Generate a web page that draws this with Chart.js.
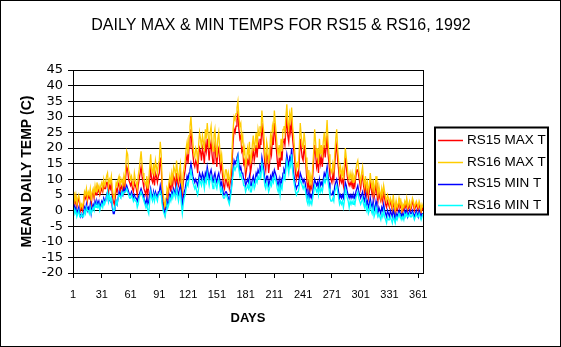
<!DOCTYPE html>
<html>
<head>
<meta charset="utf-8">
<script src="https://cdn.jsdelivr.net/npm/chart.js@4/dist/chart.umd.min.js"></script>
<style>
  html, body { margin: 0; padding: 0; background: #fff; }
  canvas { display: block; }
</style>
</head>
<body>
<canvas id="c" width="561" height="347"></canvas>
<script>
// Daily temperatures (deg C) at stations RS15 and RS16, 1992 (366 days)
const chartTitle = 'DAILY MAX & MIN TEMPS FOR RS15 & RS16, 1992';
const seriesNames = ['RS15 MAX T', 'RS16 MAX T', 'RS15 MIN T', 'RS16 MIN T'];
const seriesColors = ['#FF0000', '#FFCC00', '#0000FF', '#00FFFF'];
const dayTicks = [1, 31, 61, 91, 121, 151, 181, 211, 241, 271, 301, 331, 361];

const rs15Max = [
  3,5,2,4,1,3,4,2,0,1, 0,2,5,4,6,3,5,4,5,2, 5,6,4,6,5,7,6,7,5,6,
  7,6,8,7,7,9,9,6,8,7, 9,5,3,2,4,7,6,8,9,6, 7,8,6,9,7,11,14,13,10,9,
  8,9,7,6,9,8,7,5,8,10, 12,14,11,9,7,6,5,8,5,8, 10,13,10,9,11,8,12,11,9,11,
  12,17,14,7,3,1,-1,2,5,4, 7,9,6,10,8,11,10,8,12,9, 8,10,12,7,5,9,11,13,16,18,
  15,20,23,26,21,18,15,14,16,15, 12,17,20,19,16,20,18,15,21,19, 23,20,16,20,22,18,15,19,21,17,
  14,19,20,16,13,15,11,8,7,10, 10,8,9,7,9,11,16,22,26,25, 27,29,32,26,23,24,19,20,15,16,
  11,13,16,15,18,12,14,17,20,16, 18,21,17,22,20,23,21,28,24,21, 15,13,18,17,12,15,20,18,23,21,
  28,24,20,16,13,17,14,19,16,22, 23,21,26,30,24,22,27,25,30,23, 20,17,12,10,12,11,16,23,20,17,
  16,21,18,14,9,7,10,6,8,7, 11,16,21,18,14,16,12,19,15,17, 14,18,21,17,20,24,18,15,11,10,
  9,12,10,15,19,21,16,13,9,11, 9,10,8,12,17,14,11,9,8,9, 8,10,7,9,8,11,13,13,11,9,
  7,10,11,8,6,9,5,7,4,6, 9,7,5,8,4,6,9,5,3,6, 4,3,5,3,6,4,2,1,3,2,
  1,3,2,0,3,1,-1,2,0,1, 3,1,2,-1,1,0,2,1,3,0, 1,2,0,1,3,2,0,1,2,1,
  0,2,1,-1,1,0
];

const rs16Max = [
  4,6,3,5,2,4,5,3,1,2, 1,3,6,5,7,4,6,5,7,3, 6,7,5,8,6,9,7,8,6,8,
  9,7,10,8,9,11,12,8,10,9, 11,7,5,4,6,9,8,10,11,8, 9,10,8,11,9,14,19,18,13,12,
  10,11,9,8,12,10,9,7,11,13, 16,19,15,12,10,9,8,11,7,10, 14,18,13,12,15,11,16,14,12,15,
  16,22,18,9,5,3,1,4,7,6, 9,11,8,12,10,14,13,11,16,12, 10,13,15,9,7,12,14,16,20,22,
  18,24,27,30,25,22,18,17,20,19, 15,21,25,23,20,24,22,19,26,23, 28,24,20,25,27,22,19,24,26,21,
  17,23,25,20,16,18,14,11,10,13, 13,10,12,9,11,14,20,26,30,29, 31,33,35,30,27,28,22,24,18,20,
  14,16,20,18,22,15,17,21,24,19, 22,25,20,26,24,27,25,32,28,25, 18,16,22,20,15,18,24,22,27,25,
  32,28,24,20,18,21,17,23,19,26, 27,25,30,34,28,26,31,29,33,27, 24,20,16,13,15,14,20,28,24,21,
  20,25,22,17,12,10,13,8,11,9, 14,19,26,22,17,20,15,23,18,21, 17,22,25,20,24,29,22,18,14,13,
  12,15,13,18,23,26,20,16,12,14, 11,13,10,15,20,17,14,11,10,12, 10,12,9,11,10,13,15,16,13,11,
  9,12,14,10,8,11,7,9,6,8, 12,9,7,10,6,8,11,7,5,8, 6,4,7,5,8,6,4,3,5,4,
  2,4,3,1,5,2,0,3,1,2, 4,2,3,0,2,1,3,2,4,1, 2,3,1,2,4,3,1,2,3,2,
  1,3,2,0,2,1
];

const rs15Min = [
  1,2,0,1,-1,0,1,-1,-2,-1, -2,-1,1,0,2,0,1,0,2,-1, 1,2,1,3,2,3,2,3,1,2,
  3,2,4,3,3,5,6,3,4,3, 4,1,-1,-1,1,3,2,4,6,5, 5,6,5,7,6,7,8,7,6,5,
  5,6,5,4,5,4,4,3,4,5, 6,7,6,5,4,3,2,4,2,3, 5,7,5,4,6,4,6,5,4,6,
  6,8,6,3,1,0,-1,1,3,2, 3,5,4,6,5,7,6,5,8,6, 5,7,8,5,2,4,6,7,9,11,
  10,12,13,15,13,11,10,9,10,9, 8,10,12,11,10,12,11,9,12,11, 14,12,10,12,13,11,9,11,12,10,
  9,11,12,10,8,9,7,5,5,6, 6,5,4,3,5,7,10,13,16,15, 16,17,18,15,13,14,12,12,10,10,
  8,9,10,9,11,8,8,10,11,9, 10,12,11,13,12,14,13,17,15,13, 10,9,11,11,8,9,11,10,12,11,
  13,12,11,9,8,10,7,10,9,12, 13,12,15,18,16,14,17,16,20,15, 12,10,8,7,8,8,10,12,11,10,
  9,10,9,7,5,4,6,4,5,4, 6,8,10,9,8,9,7,10,8,9, 8,10,12,11,12,14,11,9,6,5,
  5,6,5,8,9,10,8,6,4,5, 4,5,4,6,9,8,6,5,4,5, 4,5,4,5,4,6,7,8,6,5,
  4,5,6,4,3,5,2,3,1,2, 4,2,1,3,0,1,3,1,-1,1, 0,-1,1,0,2,0,-1,-2,0,-1,
  -2,0,-1,-2,0,-1,-3,-1,-2,-1, 0,-1,-1,-2,-1,-2,0,-1,0,-2, -1,0,-1,-1,0,-1,-2,-1,0,-1,
  -2,0,-1,-2,-1,-1
];

const rs16Min = [
  0,1,-1,0,-2,-1,0,-2,-2,-1, -2,-2,0,-1,1,0,0,-1,1,-1, 0,1,0,2,1,2,1,2,0,1,
  2,1,3,2,3,4,6,3,5,3, 4,2,0,0,1,3,2,4,5,5, 4,6,5,6,6,6,7,6,5,4,
  4,5,4,3,4,3,3,1,2,4, 5,6,5,4,3,2,1,2,0,-1, 3,6,4,3,5,3,5,4,3,5,
  5,6,5,2,0,-1,-2,0,2,1, 2,4,3,5,4,6,5,4,7,5, 3,5,6,2,-1,2,4,5,7,9,
  8,10,11,13,11,9,8,7,8,6, 5,7,10,9,8,10,9,7,10,9, 12,10,8,10,11,9,7,9,10,8,
  7,9,10,8,6,7,5,4,4,5, 5,4,3,2,4,6,9,12,14,13, 14,15,17,13,11,12,10,10,8,8,
  6,7,8,7,9,6,6,8,9,7, 8,10,9,11,10,12,11,15,13,11, 8,7,9,8,6,7,9,8,10,9,
  11,10,9,7,6,8,5,8,7,10, 11,10,13,16,14,12,15,14,18,13, 10,8,6,5,6,6,8,10,9,8,
  7,8,7,5,3,2,4,2,3,2, 4,6,8,7,6,7,5,8,6,7, 6,8,10,9,10,12,9,7,4,3,
  3,4,3,6,7,8,6,4,2,3, 2,3,1,3,7,6,4,3,1,3, 2,3,2,3,2,4,5,6,4,3,
  2,3,4,2,1,3,0,1,-1,0, 2,0,-1,1,-2,-1,1,-1,-2,-1, -2,-3,-1,-2,0,-2,-3,-4,-2,-3,
  -3,-2,-3,-4,-2,-3,-4,-2,-3,-2, -1,-2,-2,-3,-2,-3,-1,-2,-1,-2, -2,-1,-2,-2,-1,-2,-3,-2,-1,-2,
  -2,-1,-2,-3,-2,-1
];

const seriesValues = [rs15Max, rs16Max, rs15Min, rs16Min];
const days = rs15Max.map((_, i) => i + 1);
const toPoints = vals => vals.map((v, i) => ({ x: days[i], y: v }));

const FONT = "'Liberation Sans', Arial, sans-serif";
Chart.defaults.font.family = FONT;
Chart.defaults.color = '#000';

// White background, outer frame, plot-area border, title and boxed legend
const framePlugin = {
  id: 'frame',
  beforeDraw(chart) {
    const ctx = chart.ctx;
    ctx.save();
    ctx.fillStyle = '#fff';
    ctx.fillRect(0, 0, chart.width, chart.height);
    ctx.restore();
  },
  afterDraw(chart) {
    const { ctx, chartArea: a } = chart;
    ctx.save();
    ctx.strokeStyle = '#000';
    ctx.lineWidth = 1;
    ctx.strokeRect(0.5, 0.5, chart.width - 1, chart.height - 1);
    ctx.strokeRect(Math.round(a.left) + 0.5, Math.round(a.top) + 0.5,
                   Math.round(a.right - a.left), Math.round(a.bottom - a.top));

    ctx.fillStyle = '#000';
    ctx.font = '16px ' + FONT;
    ctx.textAlign = 'center';
    ctx.textBaseline = 'middle';
    ctx.fillText(chartTitle, 281, 25.5);

    ctx.lineWidth = 2;
    ctx.strokeRect(435, 127.5, 113, 87);
    ctx.font = '13.5px ' + FONT;
    ctx.textAlign = 'left';
    chart.data.datasets.forEach((ds, i) => {
      const y = 140 + i * 21.8;
      ctx.strokeStyle = ds.borderColor;
      ctx.lineWidth = 1.5;
      ctx.beginPath();
      ctx.moveTo(438, Math.round(y) + 0.5);
      ctx.lineTo(463, Math.round(y) + 0.5);
      ctx.stroke();
      ctx.fillStyle = '#000';
      ctx.fillText(ds.label, 467, y);
    });
    ctx.restore();
  }
};

new Chart(document.getElementById('c'), {
  type: 'line',
  data: {
    datasets: seriesNames.map((name, k) => ({
      label: name,
      data: toPoints(seriesValues[k]),
      borderColor: seriesColors[k],
      backgroundColor: seriesColors[k],
      borderWidth: 1.3,
      pointRadius: 0,
      tension: 0,
      fill: false,
      order: 4 - k
    }))
  },
  options: {
    responsive: false,
    animation: false,
    devicePixelRatio: 1,
    layout: { padding: { left: 1, right: 138, top: 70, bottom: 0 } },
    plugins: {
      legend: { display: false },
      tooltip: { enabled: false },
      title: { display: false }
    },
    scales: {
      x: {
        type: 'linear',
        min: 1,
        max: 366,
        afterBuildTicks: s => { s.ticks = dayTicks.map(v => ({ value: v })); },
        afterFit: s => { s.height = 74; },
        ticks: {
          autoSkip: false,
          maxRotation: 0,
          color: '#000',
          font: { family: FONT, size: 11 },
          padding: 10,
          callback: v => String(v)
        },
        grid: { drawOnChartArea: false, drawTicks: true, tickLength: 5, color: '#000' },
        border: { color: '#000', width: 1 },
        title: {
          display: true,
          text: 'DAYS',
          color: '#000',
          font: { family: FONT, size: 13, weight: 'bold' },
          padding: { top: 0, bottom: 21 }
        }
      },
      y: {
        min: -20,
        max: 45,
        afterFit: s => { s.width = 72; },
        ticks: {
          stepSize: 5,
          autoSkip: false,
          color: '#000',
          font: { family: "'DejaVu Sans', sans-serif", size: 13 },
          padding: 5
        },
        grid: { color: '#000', tickLength: 5 },
        border: { color: '#000', width: 1 },
        title: {
          display: true,
          text: 'MEAN DAILY TEMP (C)',
          color: '#000',
          font: { family: FONT, size: 14, weight: 'bold' },
          padding: { top: 18, bottom: 0 }
        }
      }
    }
  },
  plugins: [framePlugin]
});
</script>
</body>
</html>
